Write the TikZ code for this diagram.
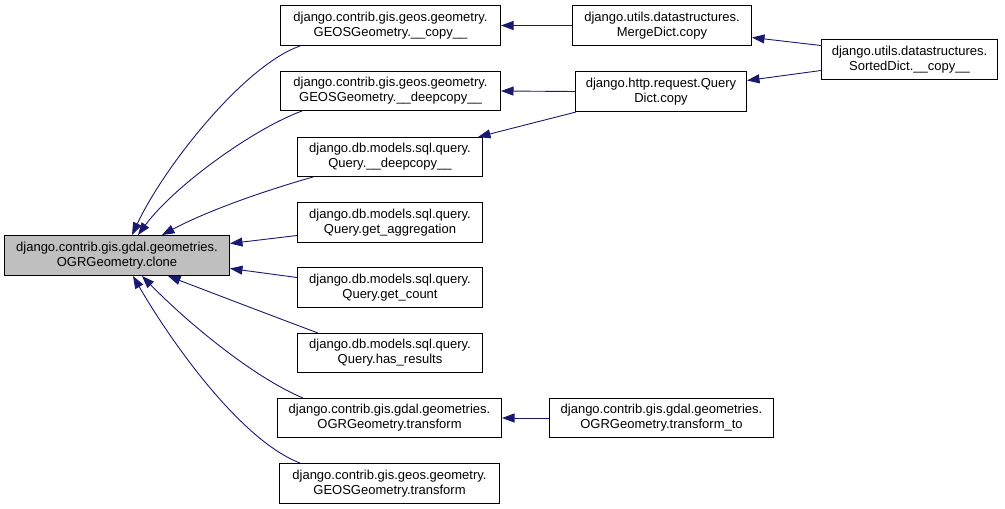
\documentclass[tikz,border=0pt]{standalone}
\usepackage{fontspec}
\setmainfont{Liberation Sans}
\usetikzlibrary{arrows.meta,calc}
\definecolor{edgecol}{HTML}{191970}
\definecolor{mainfill}{HTML}{BFBFBF}
\tikzset{
  fn/.style={draw=black, line width=1pt, fill=white, anchor=north west, inner sep=0pt,
    align=center, font=\fontsize{13pt}{15pt}\selectfont, text=black},
  callarrow/.style={draw=edgecol, line width=0.9pt, -{Triangle[length=12.5pt,width=9pt]}, fill=none}
}
\begin{document}
\begin{tikzpicture}[x=1pt,y=-1pt]
\useasboundingbox (0,0) rectangle (1005,509);
% nodes
\node[fn, fill=mainfill, minimum width=225pt, minimum height=40pt] (clone) at (4,235) {django.contrib.gis.gdal.geometries.\\OGRGeometry.clone};
\node[fn, minimum width=220pt, minimum height=40pt] (geoscopy) at (280,5) {django.contrib.gis.geos.geometry.\\GEOSGeometry.\_\_copy\_\_};
\node[fn, minimum width=220pt, minimum height=39pt] (geosdeep) at (280,71) {django.contrib.gis.geos.geometry.\\GEOSGeometry.\_\_deepcopy\_\_};
\node[fn, minimum width=179pt, minimum height=40pt] (mergecopy) at (572,5) {django.utils.datastructures.\\MergeDict.copy};
\node[fn, minimum width=171pt, minimum height=40pt] (qdcopy) at (575,71) {django.http.request.Query\\Dict.copy};
\node[fn, minimum width=176pt, minimum height=40pt] (sorted) at (821,39) {django.utils.datastructures.\\SortedDict.\_\_copy\_\_};
\node[fn, minimum width=185pt, minimum height=39pt] (qdeep) at (297,137) {django.db.models.sql.query.\\Query.\_\_deepcopy\_\_};
\node[fn, minimum width=185pt, minimum height=40pt] (qagg) at (297,202) {django.db.models.sql.query.\\Query.get\_aggregation};
\node[fn, minimum width=185pt, minimum height=40pt] (qcount) at (297,267) {django.db.models.sql.query.\\Query.get\_count};
\node[fn, minimum width=185pt, minimum height=39pt] (qhas) at (297,333) {django.db.models.sql.query.\\Query.has\_results};
\node[fn, minimum width=224pt, minimum height=39pt] (ogrtrans) at (277,398) {django.contrib.gis.gdal.geometries.\\OGRGeometry.transform};
\node[fn, minimum width=224pt, minimum height=39pt] (transto) at (549,398) {django.contrib.gis.gdal.geometries.\\OGRGeometry.transform\_to};
\node[fn, minimum width=220pt, minimum height=40pt] (geostrans) at (279,463) {django.contrib.gis.geos.geometry.\\GEOSGeometry.transform};
% edges into clone
\draw[callarrow] ($(geoscopy.south west)+(20,0)$) .. controls (245,65) and (165,165) .. ($(clone.north west)+(128,0)$);
\draw[callarrow] ($(geosdeep.south west)+(22,0)$) .. controls (255,128) and (175,185) .. ($(clone.north west)+(134,0)$);
\draw[callarrow] ($(qdeep.south west)+(16,0)$) .. controls (260,192) and (205,212) .. ($(clone.north west)+(158,0)$);
\draw[callarrow] ($(qagg.west)+(0,13)$) -- ($(clone.east)+(0,-12)$);
\draw[callarrow] ($(qcount.west)+(0,-10)$) -- ($(clone.east)+(0,13)$);
\draw[callarrow] ($(qhas.north west)+(21,0)$) .. controls (270,315) and (215,294) .. ($(clone.south west)+(164,0)$);
\draw[callarrow] ($(ogrtrans.north west)+(26,0)$) .. controls (255,378) and (190,325) .. ($(clone.south west)+(138,0)$);
\draw[callarrow] ($(geostrans.north west)+(21,0)$) .. controls (240,440) and (170,340) .. ($(clone.south west)+(129,0)$);
% other edges
\draw[callarrow] (mergecopy.west) -- (geoscopy.east);
\draw[callarrow] (qdcopy.west) -- (geosdeep.east);
\draw[callarrow] ($(qdcopy.south west)+(1,0)$) -- ($(qdeep.north east)+(-5,0)$);
\draw[callarrow] ($(sorted.west)+(0,-14)$) -- ($(mergecopy.east)+(0,12)$);
\draw[callarrow] ($(sorted.west)+(0,11)$) -- ($(qdcopy.east)+(0,-11)$);
\draw[callarrow] (transto.west) -- (ogrtrans.east);
\end{tikzpicture}
\end{document}
